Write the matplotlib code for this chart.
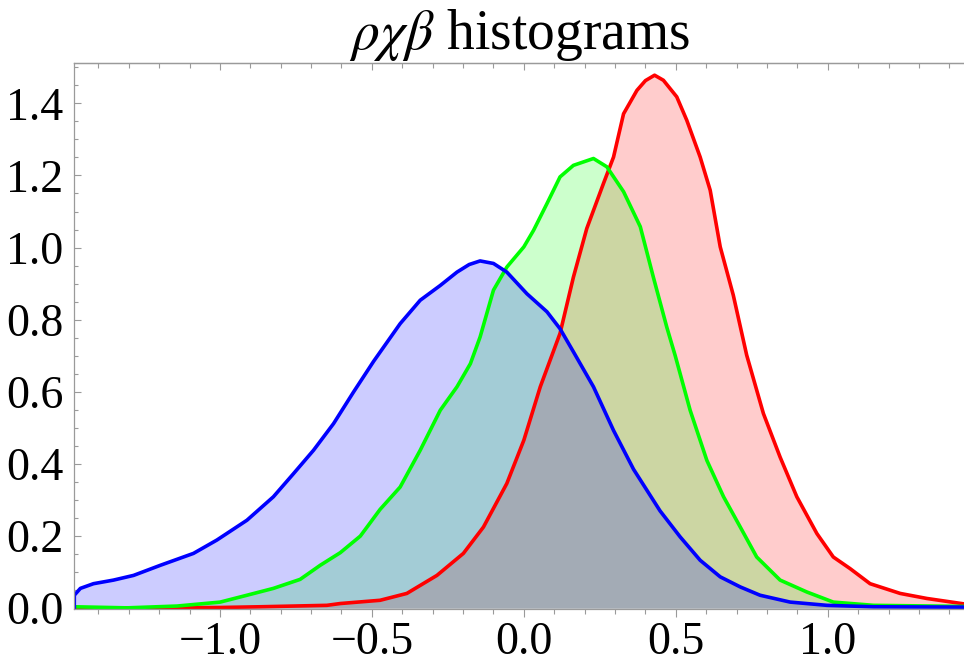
import numpy as np
import matplotlib
matplotlib.use("Agg")
import matplotlib.pyplot as plt
from matplotlib.ticker import MultipleLocator, FixedLocator, FuncFormatter

# values
blue_x = [-1.479, -1.479, -1.459, -1.416, -1.350, -1.284, -1.196, -1.087, -1.010, -0.911,
          -0.824, -0.758, -0.692, -0.626, -0.560, -0.494, -0.407, -0.341, -0.275, -0.220,
          -0.180, -0.144, -0.100, -0.056, 0.010, 0.076, 0.119, 0.163, 0.229, 0.295, 0.361,
          0.448, 0.514, 0.580, 0.646, 0.712, 0.777, 0.876, 0.997, 1.150, 1.448]
blue_y = [0.0, 0.036, 0.055, 0.068, 0.078, 0.091, 0.119, 0.152, 0.189, 0.244,
          0.309, 0.373, 0.438, 0.512, 0.600, 0.685, 0.789, 0.854, 0.895, 0.932,
          0.953, 0.963, 0.956, 0.932, 0.872, 0.822, 0.775, 0.711, 0.614, 0.493, 0.385,
          0.270, 0.198, 0.133, 0.087, 0.059, 0.036, 0.017, 0.008, 0.004, 0.003]

green_x = [-1.479, -1.306, -1.141, -0.999, -0.911, -0.824, -0.736, -0.670, -0.604, -0.538,
           -0.473, -0.407, -0.341, -0.275, -0.220, -0.176, -0.144, -0.100, -0.056, 0.0,
           0.032, 0.076, 0.119, 0.163, 0.229, 0.273, 0.328, 0.383, 0.426, 0.470,
           0.498, 0.547, 0.602, 0.657, 0.712, 0.766, 0.843, 0.931, 1.018, 1.150, 1.448]
green_y = [0.004, 0.001, 0.006, 0.017, 0.036, 0.055, 0.080, 0.119, 0.154, 0.200,
           0.274, 0.336, 0.438, 0.549, 0.614, 0.678, 0.752, 0.882, 0.946, 1.002,
           1.048, 1.122, 1.196, 1.228, 1.247, 1.224, 1.155, 1.058, 0.918, 0.780,
           0.700, 0.549, 0.410, 0.309, 0.225, 0.142, 0.078, 0.045, 0.017, 0.008, 0.005]

red_x = [-1.479, -1.2, -1.0, -0.868, -0.648, -0.604, -0.473, -0.385, -0.286, -0.199,
         -0.133, -0.056, 0.0, 0.054, 0.119, 0.163, 0.207, 0.262, 0.295, 0.328,
         0.372, 0.400, 0.430, 0.459, 0.503, 0.536, 0.580, 0.613, 0.646, 0.689, 0.733,
         0.788, 0.843, 0.898, 0.964, 1.018, 1.073, 1.139, 1.238, 1.326, 1.448]
red_y = [0.001, 0.001, 0.002, 0.004, 0.008, 0.013, 0.022, 0.041, 0.091, 0.152,
         0.225, 0.346, 0.466, 0.614, 0.762, 0.918, 1.053, 1.178, 1.251, 1.371,
         1.436, 1.463, 1.478, 1.464, 1.418, 1.353, 1.251, 1.159, 1.002, 0.868, 0.702,
         0.540, 0.419, 0.309, 0.207, 0.142, 0.110, 0.068, 0.041, 0.027, 0.012]

x_major = [-1.0, -0.5, 0.0, 0.5, 1.0]
title = r"$\rho\chi\beta$ histograms"

plt.rcParams["font.family"] = "serif"
plt.rcParams["font.serif"] = ["Liberation Serif", "DejaVu Serif"]
plt.rcParams["mathtext.fontset"] = "stix"


def fmt(v, _pos):
    s = f"{v:.1f}"
    return s.replace("-", "\u2212") if v < -1e-9 else f"{abs(v):.1f}"


fig = plt.figure(figsize=(9.64, 6.65), dpi=100)
ax = fig.add_axes([74.3 / 964, 1 - 609.3 / 665, 1 - 74.3 / 964, (609.3 - 63.3) / 665])

series = [(red_x, red_y, "#ff0000"), (green_x, green_y, "#00ff00"), (blue_x, blue_y, "#0000ff")]
for xs, ys, c in series:
    ax.fill_between(xs, ys, 0, color=c, alpha=0.2, lw=0)
for xs, ys, c in series:
    ax.plot(xs, ys, color=c, lw=2.6, solid_joinstyle="round", solid_capstyle="round")

ax.set_xlim(-1.479, 1.448)
ax.set_ylim(-0.003, 1.511)

gray = "#9a9a9a"
for s in ("left", "top", "bottom"):
    ax.spines[s].set_color(gray)
    ax.spines[s].set_linewidth(0.9)
ax.spines["right"].set_visible(False)

ax.xaxis.set_major_locator(FixedLocator(x_major))
ax.xaxis.set_minor_locator(MultipleLocator(0.1))
ax.set_yticks(np.round(np.arange(0, 1.41, 0.2), 1))
ax.yaxis.set_minor_locator(MultipleLocator(0.05))
ax.xaxis.set_major_formatter(FuncFormatter(fmt))
ax.yaxis.set_major_formatter(FuncFormatter(fmt))

ax.tick_params(axis="x", which="both", direction="out", color=gray, width=0.8,
               labelsize=33, pad=3, top=False)
ax.tick_params(axis="x", which="major", length=6)
ax.tick_params(axis="x", which="minor", length=3.5)
ax.tick_params(axis="y", which="both", direction="in", color=gray, width=0.8,
               labelsize=33, pad=8, right=False)
ax.tick_params(axis="y", which="major", length=5)
ax.tick_params(axis="y", which="minor", length=3)

# top frame carries inward ticks only
top = ax.secondary_xaxis("top")
top.xaxis.set_major_locator(FixedLocator(x_major))
top.xaxis.set_minor_locator(MultipleLocator(0.1))
top.tick_params(which="both", direction="in", color=gray, width=0.8, labeltop=False)
top.tick_params(which="major", length=5)
top.tick_params(which="minor", length=3.5)
top.spines["top"].set_color(gray)
top.spines["top"].set_linewidth(0.9)

ax.set_title(title, fontsize=40, pad=5)

fig.savefig("out.png", dpi=100)
